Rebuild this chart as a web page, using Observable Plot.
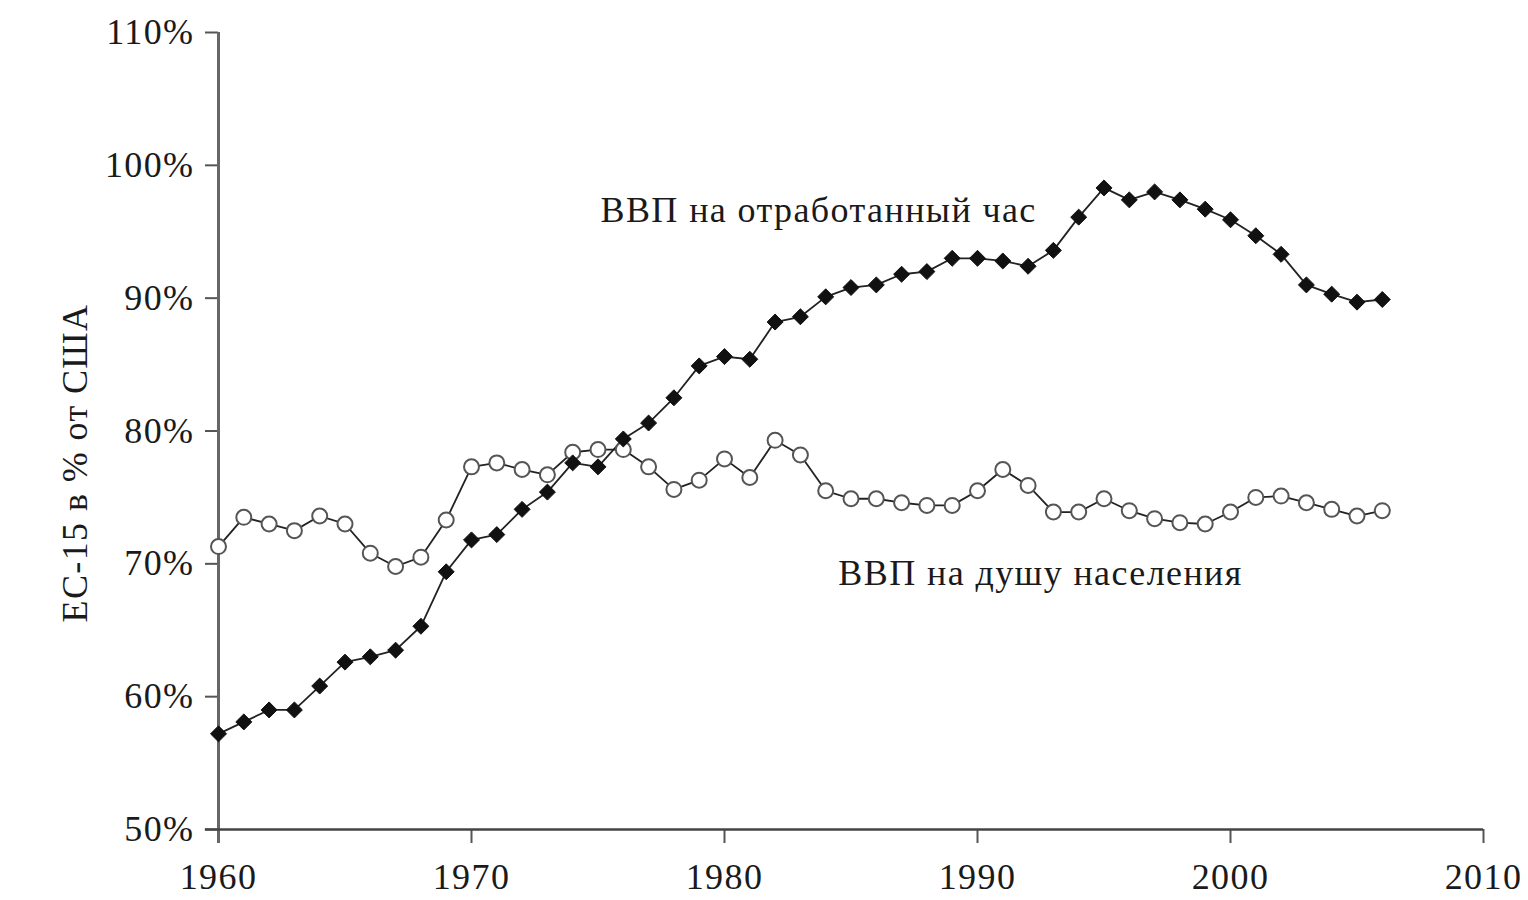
<!DOCTYPE html>
<html>
<head>
<meta charset="utf-8">
<script src="https://cdn.jsdelivr.net/npm/d3@7"></script>
<script src="https://cdn.jsdelivr.net/npm/@observablehq/plot@0.6"></script>
<style>
  html, body { margin: 0; padding: 0; background: #fff; }
  #chart svg { display: block; }
  #chart svg text { letter-spacing: 1.4px; }
</style>
</head>
<body>
<div id="chart"></div>
<script>
const years = [1960,1961,1962,1963,1964,1965,1966,1967,1968,1969,
  1970,1971,1972,1973,1974,1975,1976,1977,1978,1979,
  1980,1981,1982,1983,1984,1985,1986,1987,1988,1989,
  1990,1991,1992,1993,1994,1995,1996,1997,1998,1999,
  2000,2001,2002,2003,2004,2005,2006];

// ВВП на отработанный час (EU-15 as % of US)
const perHour = [57.2,58.1,59.0,59.0,60.8,62.6,63.0,63.5,65.3,69.4,
  71.8,72.2,74.1,75.4,77.6,77.3,79.4,80.6,82.5,84.9,
  85.6,85.4,88.2,88.6,90.1,90.8,91.0,91.8,92.0,93.0,
  93.0,92.8,92.4,93.6,96.1,98.3,97.4,98.0,97.4,96.7,
  95.9,94.7,93.3,91.0,90.3,89.7,89.9];

// ВВП на душу населения (EU-15 as % of US)
const perCapita = [71.3,73.5,73.0,72.5,73.6,73.0,70.8,69.8,70.5,73.3,
  77.3,77.6,77.1,76.7,78.4,78.6,78.6,77.3,75.6,76.3,
  77.9,76.5,79.3,78.2,75.5,74.9,74.9,74.6,74.4,74.4,
  75.5,77.1,75.9,73.9,73.9,74.9,74.0,73.4,73.1,73.0,
  73.9,75.0,75.1,74.6,74.1,73.6,74.0];

const yTicks = [50,60,70,80,90,100,110];
const xTicks = [1960,1970,1980,1990,2000,2010];

const seriesLabels = ["ВВП на отработанный час", "ВВП на душу населения"];
const labelYears = [1975.1, 1984.5];
const labelValues = [96.6, 69.3];
const yTitle = "ЕС-15 в % от США";

const hourData = years.map((y, i) => ({year: y, value: perHour[i]}));
const capitaData = years.map((y, i) => ({year: y, value: perCapita[i]}));
const labelData = seriesLabels.map((t, i) => ({text: t, year: labelYears[i], value: labelValues[i]}));

const font = "'Liberation Serif', 'DejaVu Serif', serif";

const chart = Plot.plot({
  width: 1528,
  height: 900,
  marginLeft: 218,
  marginRight: 45,
  marginTop: 32,
  marginBottom: 71,
  style: {fontFamily: font, background: "#fff", color: "#1a1a1a"},
  x: {domain: [1960, 2010]},
  y: {domain: [50, 110]},
  marks: [
    Plot.axisY({ticks: yTicks, tickFormat: d => d + "%", tickSize: 13, tickPadding: 11,
      fontSize: 36, stroke: "#555", strokeWidth: 2, label: null}),
    Plot.axisX({ticks: xTicks, tickFormat: d => String(d), tickSize: 14, tickPadding: 20,
      fontSize: 36, stroke: "#555", strokeWidth: 2, label: null}),
    Plot.text([yTitle], {frameAnchor: "left", rotate: -90, dx: -143, dy: 32,
      fontSize: 36, fill: "#1a1a1a", textAnchor: "middle", lineAnchor: "middle"}),
    Plot.ruleX([1960], {y1: 48.95, y2: 110, stroke: "#666", strokeWidth: 3}),
    Plot.ruleY([50], {x1: 1959.48, x2: 2010, stroke: "#444", strokeWidth: 2.5}),
    Plot.line(capitaData, {x: "year", y: "value", stroke: "#222", strokeWidth: 1.8}),
    Plot.line(hourData, {x: "year", y: "value", stroke: "#222", strokeWidth: 1.8}),
    Plot.dot(capitaData, {x: "year", y: "value", r: 7.5, fill: "#fff", stroke: "#555", strokeWidth: 2}),
    Plot.dot(hourData, {x: "year", y: "value", symbol: "diamond2", r: 7.2, fill: "#111", stroke: "#111", strokeWidth: 1}),
    Plot.text(labelData, {x: "year", y: "value", text: "text", textAnchor: "start", fontSize: 36, fill: "#1a1a1a"})
  ]
});
document.getElementById("chart").append(chart);
</script>
</body>
</html>
